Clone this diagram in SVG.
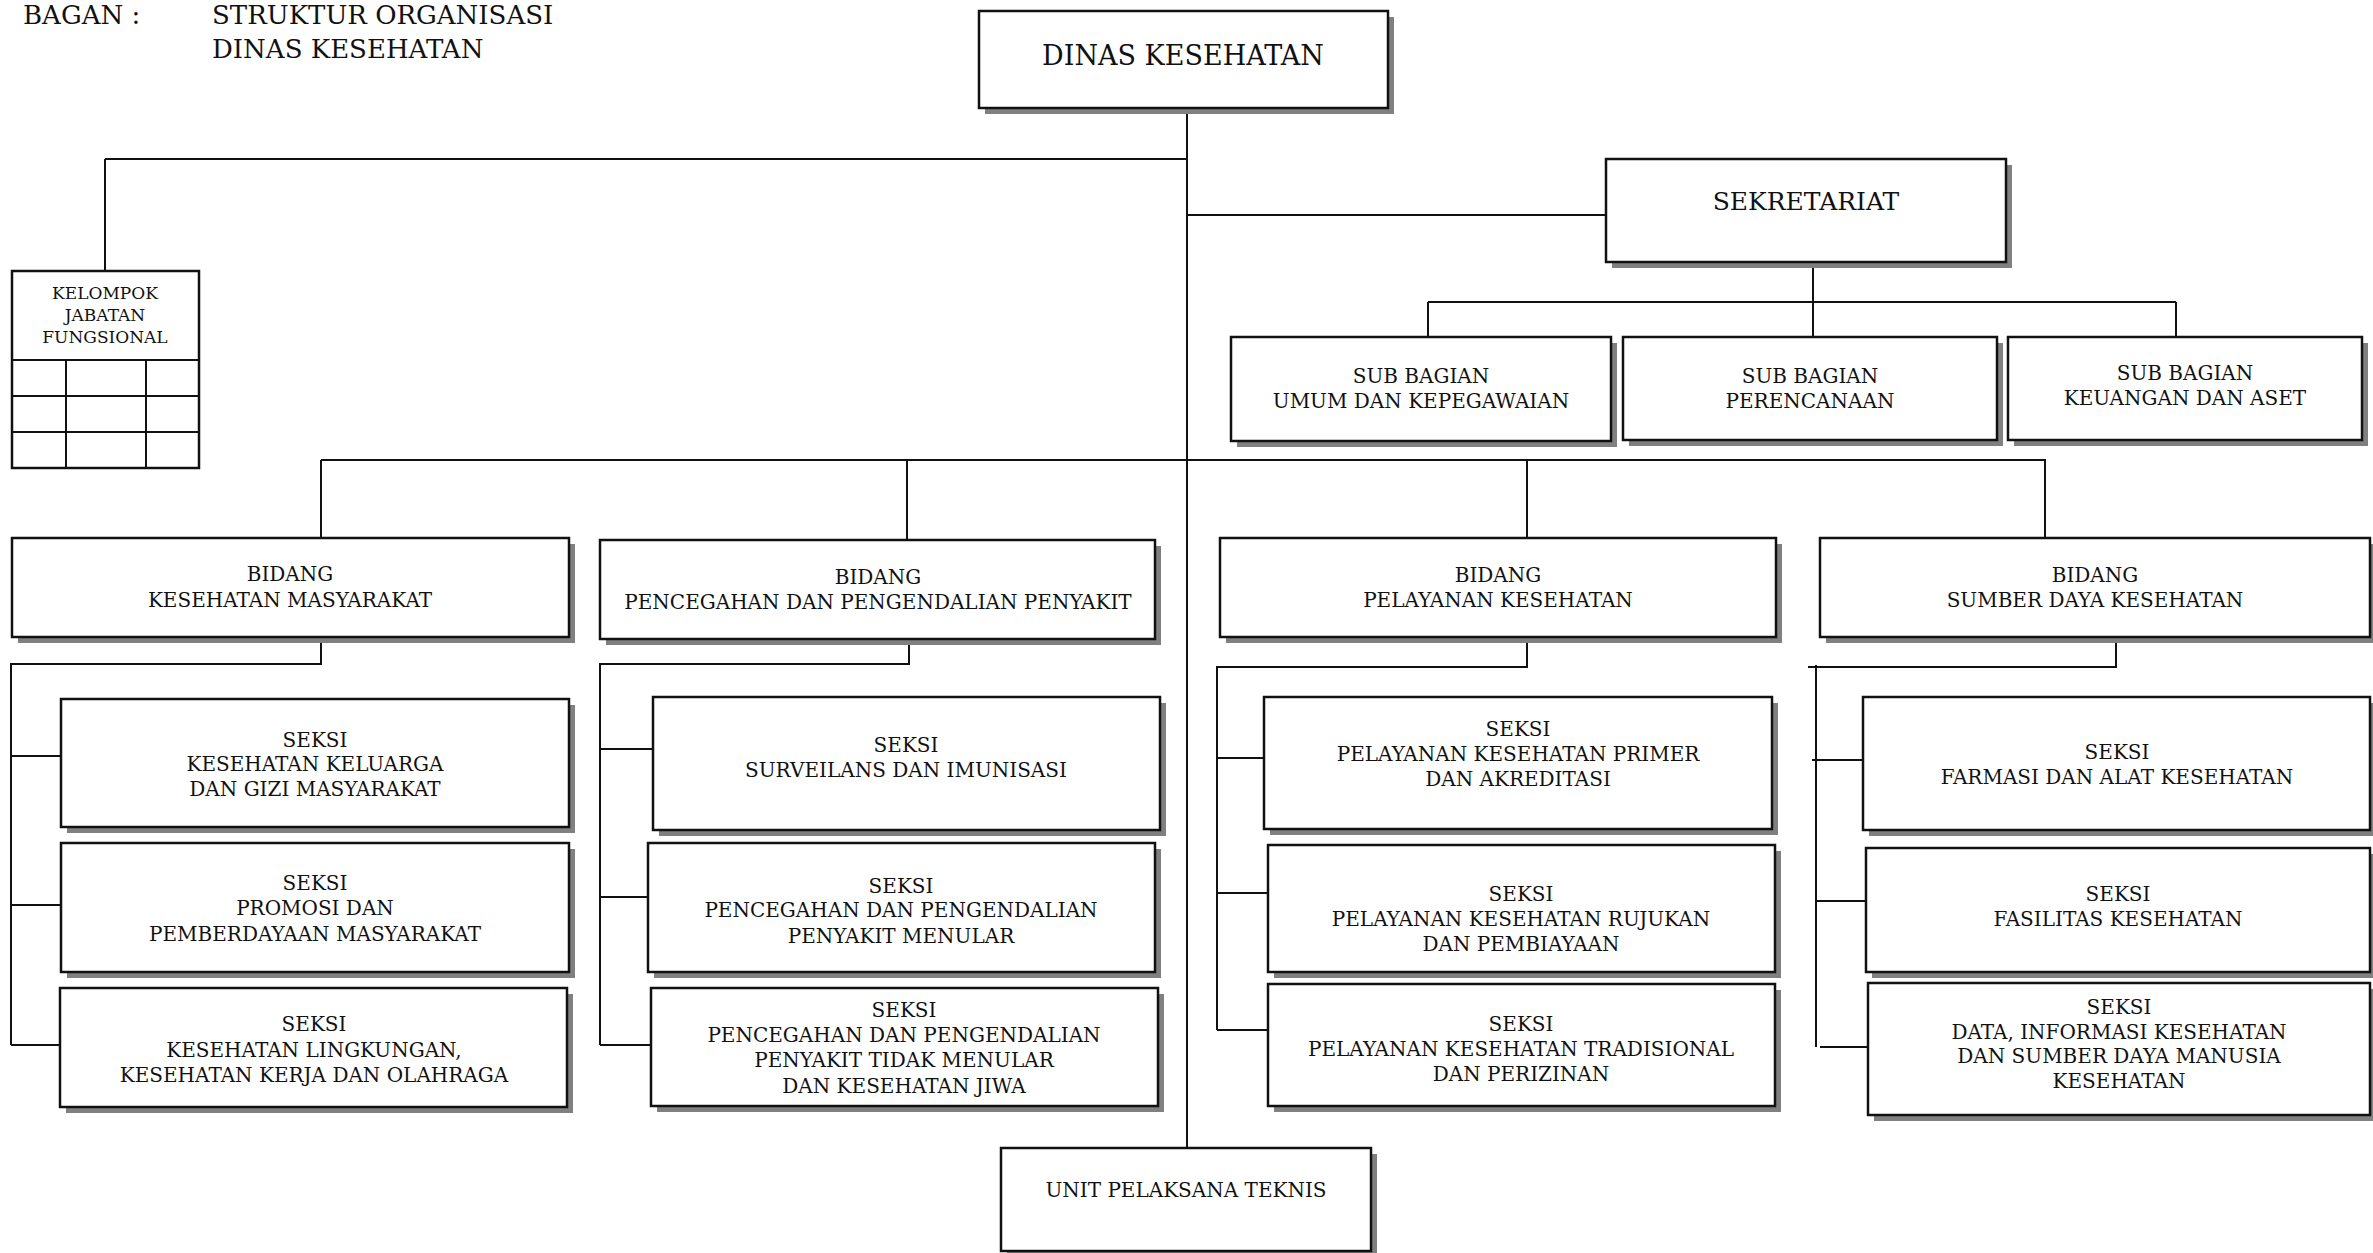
<svg xmlns="http://www.w3.org/2000/svg" width="2373" height="1253" viewBox="0 0 2373 1253">
<style>
text{font-family:"DejaVu Serif","Liberation Serif",serif;fill:#111;text-anchor:middle}
.t{font-size:20px}
.sh{fill:#808080;stroke:none}
.bx{fill:#fff;stroke:#111;stroke-width:2.5}
.ln{fill:none;stroke:#111;stroke-width:2}
</style>
<rect width="2373" height="1253" fill="#fff"/>
<g id="title">
<text x="23" y="24" style="text-anchor:start;font-size:26px">BAGAN :</text>
<text x="212" y="24" style="text-anchor:start;font-size:26px">STRUKTUR ORGANISASI</text>
<text x="212" y="58" style="text-anchor:start;font-size:26px">DINAS KESEHATAN</text>
</g>
<g id="connectors">
<path class="ln" d="M1187 108V1148"/>
<path class="ln" d="M105 159H1187M105 159V271"/>
<path class="ln" d="M1187 215H1606"/>
<path class="ln" d="M1813 262V302M1428 302H2176M1428 302V337M1813 302V337M2176 302V337"/>
<path class="ln" d="M321 460H2046M321 460V538M907 460V540M1527 460V538M2045 460V538"/>
<path class="ln" d="M321 637V664H11V1045M11 756H61M11 905H61M11 1045H60"/>
<path class="ln" d="M909 639V664H600V1045M600 749H653M600 897H648M600 1045H651"/>
<path class="ln" d="M1527 637V667H1217V1030M1217 758H1264M1217 893H1268M1217 1030H1268"/>
<path class="ln" d="M2116 637V667H1808M1816 665V1047M1812 760H1863M1816 901H1866M1820 1047H1868"/>
</g>
<g id="dinas">
<rect class="sh" x="985" y="17" width="409" height="97"/>
<rect class="bx" x="979" y="11" width="409" height="97"/>
<text x="1183" y="65" style="font-size:27px">DINAS KESEHATAN</text>
</g>
<g id="kelompok">
<rect class="bx" x="12" y="271" width="187" height="197"/>
<path class="ln" d="M12 360H199M12 396H199M12 432H199M66 360V468M146 360V468"/>
<text style="font-size:17px"><tspan x="105" y="299">KELOMPOK</tspan><tspan x="105" y="321">JABATAN</tspan><tspan x="105" y="343">FUNGSIONAL</tspan></text>
</g>
<g id="sekretariat">
<rect class="sh" x="1612" y="165" width="400" height="103"/>
<rect class="bx" x="1606" y="159" width="400" height="103"/>
<text x="1806" y="210" style="font-size:25px">SEKRETARIAT</text>
</g>
<g id="sub-umum">
<rect class="sh" x="1237" y="343" width="380" height="104"/>
<rect class="bx" x="1231" y="337" width="380" height="104"/>
<text class="t"><tspan x="1421" y="383">SUB BAGIAN</tspan><tspan x="1421" y="408">UMUM DAN KEPEGAWAIAN</tspan></text>
</g>
<g id="sub-perencanaan">
<rect class="sh" x="1629" y="343" width="374" height="103"/>
<rect class="bx" x="1623" y="337" width="374" height="103"/>
<text class="t"><tspan x="1810" y="383">SUB BAGIAN</tspan><tspan x="1810" y="408">PERENCANAAN</tspan></text>
</g>
<g id="sub-keuangan">
<rect class="sh" x="2014" y="343" width="354" height="103"/>
<rect class="bx" x="2008" y="337" width="354" height="103"/>
<text class="t"><tspan x="2185" y="380">SUB BAGIAN</tspan><tspan x="2185" y="405">KEUANGAN DAN ASET</tspan></text>
</g>
<g id="bidang-kesmas">
<rect class="sh" x="18" y="544" width="557" height="99"/>
<rect class="bx" x="12" y="538" width="557" height="99"/>
<text class="t"><tspan x="290" y="581">BIDANG</tspan><tspan x="290" y="607">KESEHATAN MASYARAKAT</tspan></text>
</g>
<g id="bidang-p2p">
<rect class="sh" x="606" y="546" width="555" height="99"/>
<rect class="bx" x="600" y="540" width="555" height="99"/>
<text class="t"><tspan x="878" y="584">BIDANG</tspan><tspan x="878" y="609">PENCEGAHAN DAN PENGENDALIAN PENYAKIT</tspan></text>
</g>
<g id="bidang-yankes">
<rect class="sh" x="1226" y="544" width="556" height="99"/>
<rect class="bx" x="1220" y="538" width="556" height="99"/>
<text class="t"><tspan x="1498" y="582">BIDANG</tspan><tspan x="1498" y="607">PELAYANAN KESEHATAN</tspan></text>
</g>
<g id="bidang-sdk">
<rect class="sh" x="1826" y="544" width="550" height="99"/>
<rect class="bx" x="1820" y="538" width="550" height="99"/>
<text class="t"><tspan x="2095" y="582">BIDANG</tspan><tspan x="2095" y="607">SUMBER DAYA KESEHATAN</tspan></text>
</g>
<g id="seksi-kgm">
<rect class="sh" x="67" y="705" width="508" height="128"/>
<rect class="bx" x="61" y="699" width="508" height="128"/>
<text class="t"><tspan x="315" y="747">SEKSI</tspan><tspan x="315" y="771">KESEHATAN KELUARGA</tspan><tspan x="315" y="796">DAN GIZI MASYARAKAT</tspan></text>
</g>
<g id="seksi-promkes">
<rect class="sh" x="67" y="849" width="508" height="129"/>
<rect class="bx" x="61" y="843" width="508" height="129"/>
<text class="t"><tspan x="315" y="890">SEKSI</tspan><tspan x="315" y="915">PROMOSI DAN</tspan><tspan x="315" y="941">PEMBERDAYAAN MASYARAKAT</tspan></text>
</g>
<g id="seksi-kesling">
<rect class="sh" x="66" y="994" width="507" height="119"/>
<rect class="bx" x="60" y="988" width="507" height="119"/>
<text class="t"><tspan x="314" y="1031">SEKSI</tspan><tspan x="314" y="1057">KESEHATAN LINGKUNGAN,</tspan><tspan x="314" y="1082">KESEHATAN KERJA DAN OLAHRAGA</tspan></text>
</g>
<g id="seksi-surveilans">
<rect class="sh" x="659" y="703" width="507" height="133"/>
<rect class="bx" x="653" y="697" width="507" height="133"/>
<text class="t"><tspan x="906" y="752">SEKSI</tspan><tspan x="906" y="777">SURVEILANS DAN IMUNISASI</tspan></text>
</g>
<g id="seksi-p2pm">
<rect class="sh" x="654" y="849" width="507" height="129"/>
<rect class="bx" x="648" y="843" width="507" height="129"/>
<text class="t"><tspan x="901" y="893">SEKSI</tspan><tspan x="901" y="917">PENCEGAHAN DAN PENGENDALIAN</tspan><tspan x="901" y="943">PENYAKIT MENULAR</tspan></text>
</g>
<g id="seksi-p2ptm">
<rect class="sh" x="657" y="994" width="507" height="118"/>
<rect class="bx" x="651" y="988" width="507" height="118"/>
<text class="t"><tspan x="904" y="1017">SEKSI</tspan><tspan x="904" y="1042">PENCEGAHAN DAN PENGENDALIAN</tspan><tspan x="904" y="1067">PENYAKIT TIDAK MENULAR</tspan><tspan x="904" y="1093">DAN KESEHATAN JIWA</tspan></text>
</g>
<g id="seksi-primer">
<rect class="sh" x="1270" y="703" width="508" height="132"/>
<rect class="bx" x="1264" y="697" width="508" height="132"/>
<text class="t"><tspan x="1518" y="736">SEKSI</tspan><tspan x="1518" y="761">PELAYANAN KESEHATAN PRIMER</tspan><tspan x="1518" y="786">DAN AKREDITASI</tspan></text>
</g>
<g id="seksi-rujukan">
<rect class="sh" x="1274" y="851" width="507" height="127"/>
<rect class="bx" x="1268" y="845" width="507" height="127"/>
<text class="t"><tspan x="1521" y="901">SEKSI</tspan><tspan x="1521" y="926">PELAYANAN KESEHATAN RUJUKAN</tspan><tspan x="1521" y="951">DAN PEMBIAYAAN</tspan></text>
</g>
<g id="seksi-tradisional">
<rect class="sh" x="1274" y="990" width="507" height="122"/>
<rect class="bx" x="1268" y="984" width="507" height="122"/>
<text class="t"><tspan x="1521" y="1031">SEKSI</tspan><tspan x="1521" y="1056">PELAYANAN KESEHATAN TRADISIONAL</tspan><tspan x="1521" y="1081">DAN PERIZINAN</tspan></text>
</g>
<g id="seksi-farmasi">
<rect class="sh" x="1869" y="703" width="507" height="133"/>
<rect class="bx" x="1863" y="697" width="507" height="133"/>
<text class="t"><tspan x="2117" y="759">SEKSI</tspan><tspan x="2117" y="784">FARMASI DAN ALAT KESEHATAN</tspan></text>
</g>
<g id="seksi-fasilitas">
<rect class="sh" x="1872" y="854" width="504" height="124"/>
<rect class="bx" x="1866" y="848" width="504" height="124"/>
<text class="t"><tspan x="2118" y="901">SEKSI</tspan><tspan x="2118" y="926">FASILITAS KESEHATAN</tspan></text>
</g>
<g id="seksi-data">
<rect class="sh" x="1874" y="989" width="502" height="132"/>
<rect class="bx" x="1868" y="983" width="502" height="132"/>
<text class="t"><tspan x="2119" y="1014">SEKSI</tspan><tspan x="2119" y="1039">DATA, INFORMASI KESEHATAN</tspan><tspan x="2119" y="1063">DAN SUMBER DAYA MANUSIA</tspan><tspan x="2119" y="1088">KESEHATAN</tspan></text>
</g>
<g id="upt">
<rect class="sh" x="1007" y="1154" width="370" height="103"/>
<rect class="bx" x="1001" y="1148" width="370" height="103"/>
<text x="1186" y="1197" style="font-size:20px">UNIT PELAKSANA TEKNIS</text>
</g>
</svg>
